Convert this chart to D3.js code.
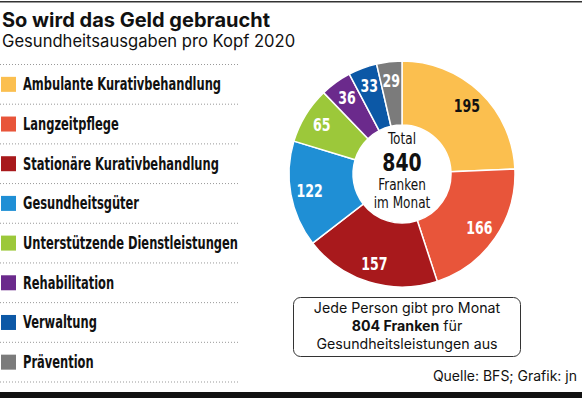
<!DOCTYPE html>
<html><head><meta charset="utf-8">
<script src="https://cdn.jsdelivr.net/npm/d3@7"></script>
<style>
html,body{margin:0;padding:0;background:#fff;}
svg{display:block;}
.cond{font-family:"Liberation Sans Narrow","DejaVu Sans Condensed","Roboto",sans-serif;font-stretch:condensed;}
.sans{font-family:"Inter","Liberation Sans",sans-serif;}
</style></head>
<body>
<svg id="c" width="582" height="398"></svg>
<script>
const categories = ["Ambulante Kurativbehandlung","Langzeitpflege","Stationäre Kurativbehandlung","Gesundheitsgüter","Unterstützende Dienstleistungen","Rehabilitation","Verwaltung","Prävention"];
const values = [195,166,157,122,65,36,33,29];
const colors = ["#fbbf4f","#e8553a","#a8191c","#1f8fd5","#9cc83a","#6b2a8c","#0c58a6","#7b7b7b"];
const labelColors = ["#111","#fff","#fff","#fff","#fff","#fff","#fff","#fff"];
const title = "So wird das Geld gebraucht";
const subtitle = "Gesundheitsausgaben pro Kopf 2020";
const centerLines = ["Total","840","Franken","im Monat"];
const noteLines = ["Jede Person gibt pro Monat","804 Franken","für","Gesundheitsleistungen aus"];
const source = "Quelle: BFS; Grafik: jn";

const svg = d3.select("#c");
const W = 582, H = 398;
const SX = 0.75; // horizontal condensing for narrow font look

// top and bottom rules
svg.append("rect").attr("x",0).attr("y",1).attr("width",W).attr("height",1.5).attr("fill","#333");
svg.append("rect").attr("x",0).attr("y",392).attr("width",W).attr("height",6).attr("fill","#111");

svg.append("text").attr("class","sans").attr("x",2).attr("y",27)
  .attr("font-size",20).attr("font-weight",700).attr("fill","#111").text(title);
svg.append("text").attr("class","sans").attr("x",2).attr("y",47)
  .attr("font-size",16.6).attr("fill","#111").text(subtitle);

// legend
const rowY = d3.scaleBand().domain(categories).range([64.5,382]);
const leg = svg.append("g");
leg.append("line").attr("x1",0).attr("x2",240).attr("y1",64.5).attr("y2",64.5)
  .attr("stroke","#999").attr("stroke-dasharray","1,2");
categories.forEach((c,i)=>{
  const y0 = rowY(c), bw = rowY.bandwidth(), cy = y0 + bw/2;
  leg.append("rect").attr("x",1).attr("y",cy-7.5).attr("width",15).attr("height",15).attr("fill",colors[i]);
  leg.append("text").attr("class","cond")
    .attr("transform",`translate(23,${cy+6}) scale(${SX},1)`)
    .attr("font-size",17).attr("font-weight",700).attr("fill","#111").text(c);
  leg.append("line").attr("x1",0).attr("x2",240).attr("y1",y0+bw).attr("y2",y0+bw)
    .attr("stroke","#999").attr("stroke-dasharray","1,2");
});

// donut
const cx = 402, cy = 174, R = 113, r0 = 49;
const pie = d3.pie().sort(null).value(d=>d)(values);
const arc = d3.arc().innerRadius(r0).outerRadius(R);
const larc = d3.arc().innerRadius(94).outerRadius(94);
const g = svg.append("g").attr("transform",`translate(${cx},${cy})`);
g.selectAll("path").data(pie).join("path").attr("d",arc)
  .attr("fill",(d,i)=>colors[i]).attr("stroke","#fff").attr("stroke-width",1.5);
g.selectAll("text.lab").data(pie).join("text").attr("class","lab cond")
  .attr("transform",d=>`translate(${larc.centroid(d)}) scale(0.8,1)`)
  .attr("text-anchor","middle").attr("dy","0.36em")
  .attr("font-size",17.5).attr("font-weight",700)
  .attr("fill",(d,i)=>labelColors[i]).text(d=>d.data);

// center text
const ct = [[centerLines[0],-30,16,400],[centerLines[1],-3.5,25,700],[centerLines[2],16,16,400],[centerLines[3],33.5,16,400]];
ct.forEach(([t,y,fs,fw])=>{
  g.append("text").attr("class","cond").attr("text-anchor","middle")
    .attr("transform",`translate(0,${y}) scale(0.84,1)`)
    .attr("font-size",fs).attr("font-weight",fw).attr("fill","#111").text(t);
});

// note box
svg.append("rect").attr("x",293.5).attr("y",297.5).attr("width",227).attr("height",59)
  .attr("rx",7).attr("fill","#fff").attr("stroke","#333").attr("stroke-width",1);
const bx = 407;
svg.append("text").attr("class","sans").attr("x",bx).attr("y",313).attr("text-anchor","middle")
  .attr("font-size",14.2).attr("fill","#111").text(noteLines[0]);
const t2 = svg.append("text").attr("class","sans").attr("x",bx).attr("y",331).attr("text-anchor","middle")
  .attr("font-size",14.2).attr("fill","#111");
t2.append("tspan").attr("font-weight",700).text(noteLines[1]);
t2.append("tspan").text(" " + noteLines[2]);
svg.append("text").attr("class","sans").attr("x",bx).attr("y",349).attr("text-anchor","middle")
  .attr("font-size",14.2).attr("fill","#111").text(noteLines[3]);

svg.append("text").attr("class","sans").attr("x",577).attr("y",381).attr("text-anchor","end")
  .attr("font-size",14).attr("fill","#111").text(source);
</script>
</body></html>
